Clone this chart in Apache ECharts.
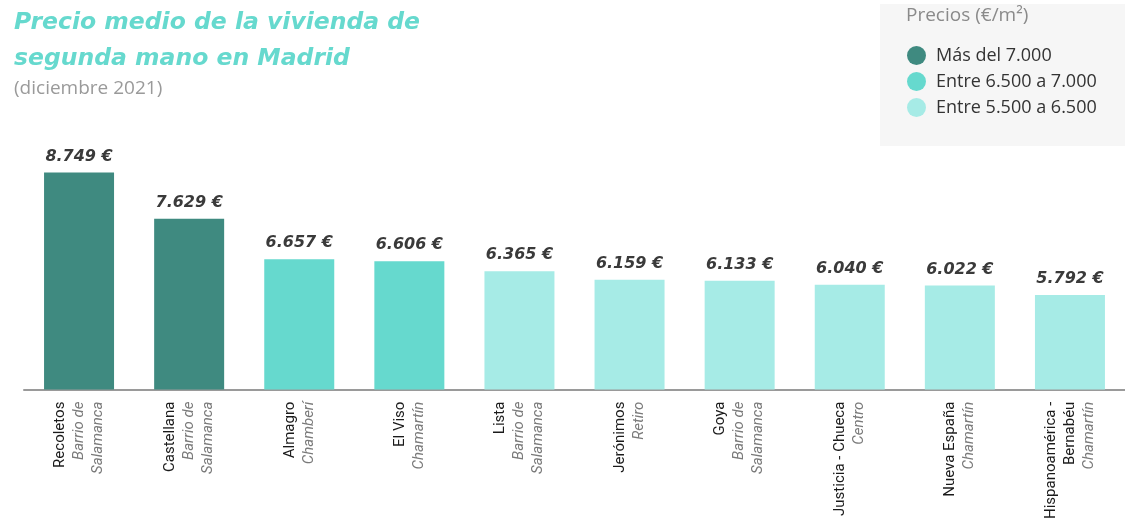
<!DOCTYPE html>
<html>
<head>
<meta charset="utf-8">
<script src="https://cdn.jsdelivr.net/npm/echarts@6/dist/echarts.min.js"></script>
<style>
  html, body { margin: 0; padding: 0; background: #fff; }
  #chart { width: 1125px; height: 522px; }
</style>
</head>
<body>
<div id="chart"></div>
<script>
// Barrios y su distrito
const BARRIOS = ['Recoletos', 'Castellana', 'Almagro', 'El Viso', 'Lista', 'Jerónimos', 'Goya', 'Justicia - Chueca', 'Nueva España', 'Hispanoamérica -\nBernabéu'];
const DISTRITOS = ['Barrio de\nSalamanca', 'Barrio de\nSalamanca', 'Chamberí', 'Chamartín', 'Barrio de\nSalamanca', 'Retiro', 'Barrio de\nSalamanca', 'Centro', 'Chamartín', 'Chamartín'];
// €/m2, diciembre 2021
const PRECIOS = [8749, 7629, 6657, 6606, 6365, 6159, 6133, 6040, 6022, 5792];
const TRAMOS = ['Más del 7.000', 'Entre 6.500 a 7.000', 'Entre 5.500 a 6.500'];
const COLORES = ['#3f8a80', '#66d9ce', '#a6ebe6'];

function tramo(v) {
  if (v > 7000) return 0;
  if (v >= 6500) return 1;
  return 2;
}

const fmt = v => v.toLocaleString('de-DE') + ' €';

let chart = echarts.init(document.getElementById('chart'), null, { renderer: 'canvas' });

const series = TRAMOS.map((name, i) => ({
  name: name,
  type: 'bar',
  barWidth: 70,
  barGap: '-100%',
  data: PRECIOS.map(v => tramo(v) === i ? v : '-'),
  itemStyle: { color: COLORES[i] },
  label: {
    show: true,
    position: 'top',
    distance: 8,
    formatter: p => fmt(p.value),
    fontFamily: 'DejaVu Sans',
    fontWeight: 'bold',
    fontStyle: 'italic',
    fontSize: 16,
    color: '#3a3a3a'
  }
}));

chart.setOption({
  animation: false,
  backgroundColor: '#fff',
  graphic: [
    { type: 'rect', left: 880, top: 4, shape: { width: 245, height: 142 }, style: { fill: '#f6f6f6' } },
    { type: 'text', left: 906, top: 6, style: { text: 'Precios (€/m²)', font: '19px "Open Sans"', fill: '#8a8a8a' } },
    { type: 'text', left: 14, top: 5, style: { text: 'Precio medio de la vivienda de\nsegunda mano en Madrid', font: 'italic bold 23.5px "DejaVu Sans"', lineHeight: 36, fill: '#66d9ce' } },
    { type: 'text', left: 14, top: 79, style: { text: '(diciembre 2021)', font: '19px "Open Sans"', fill: '#9a9a9a' } }
  ],
  legend: {
    data: TRAMOS,
    orient: 'vertical',
    left: 907,
    top: 46,
    padding: 0,
    icon: 'circle',
    itemWidth: 19,
    itemHeight: 19,
    itemGap: 7,
    textStyle: { fontFamily: 'Open Sans', fontSize: 18, color: '#333', padding: [0, 0, 0, 5] }
  },
  grid: { left: 24, right: 0, top: 162, bottom: 132 },
  xAxis: {
    type: 'category',
    data: BARRIOS,
    axisLine: { lineStyle: { color: '#9a9a9a', width: 2 } },
    axisTick: { show: false },
    axisLabel: {
      rotate: 90,
      margin: 12,
      interval: 0,
      formatter: (val, idx) => '{n|' + val.split('\n').join('}\n{n|') + '}\n{d|' + DISTRITOS[idx].split('\n').join('}\n{d|') + '}',
      rich: {
        n: { fontFamily: 'Roboto', fontSize: 15, color: '#1a1a1a', lineHeight: 19 },
        d: { fontFamily: 'Roboto', fontSize: 15, fontStyle: 'italic', color: '#7a7a7a', lineHeight: 19 }
      }
    }
  },
  yAxis: {
    type: 'value',
    min: 3510,
    max: 9000,
    show: false,
    splitLine: { show: false }
  },
  series: series
});
</script>
</body>
</html>
